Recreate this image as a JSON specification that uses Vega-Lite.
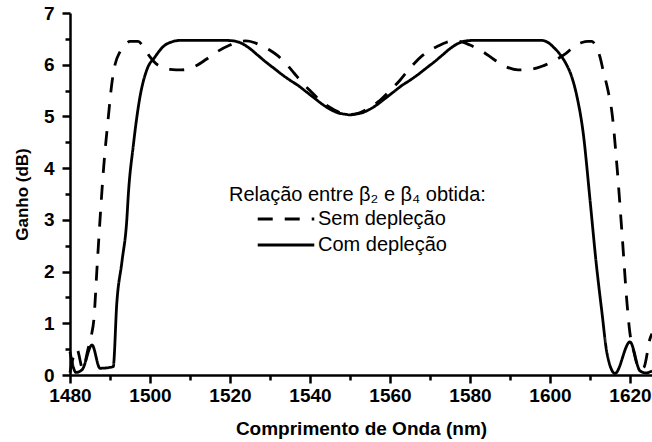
{
  "$schema": "https://vega.github.io/schema/vega-lite/v6.json",
  "width": 582,
  "height": 362,
  "autosize": {"type": "none"},
  "padding": {"left": 70, "top": 13, "right": 0, "bottom": 67},
  "config": {
    "view": {"stroke": null},
    "font": "Liberation Sans"
  },
  "data": {
    "values": [
      {"serie": "Com depleção", "lambda": 1480, "ganho": 0.45},
      {"serie": "Com depleção", "lambda": 1481.5, "ganho": 0.05},
      {"serie": "Com depleção", "lambda": 1483, "ganho": 0.1},
      {"serie": "Com depleção", "lambda": 1485.5, "ganho": 0.58},
      {"serie": "Com depleção", "lambda": 1487.5, "ganho": 0.13},
      {"serie": "Com depleção", "lambda": 1490.8, "ganho": 0.16},
      {"serie": "Com depleção", "lambda": 1491.7, "ganho": 1.39},
      {"serie": "Com depleção", "lambda": 1493, "ganho": 2.2},
      {"serie": "Com depleção", "lambda": 1494.2, "ganho": 3.0},
      {"serie": "Com depleção", "lambda": 1494.6, "ganho": 3.51},
      {"serie": "Com depleção", "lambda": 1495.8, "ganho": 4.42},
      {"serie": "Com depleção", "lambda": 1497.5, "ganho": 5.38},
      {"serie": "Com depleção", "lambda": 1499.2, "ganho": 5.9},
      {"serie": "Com depleção", "lambda": 1501.25, "ganho": 6.15},
      {"serie": "Com depleção", "lambda": 1503.3, "ganho": 6.35},
      {"serie": "Com depleção", "lambda": 1505.8, "ganho": 6.45},
      {"serie": "Com depleção", "lambda": 1507.5, "ganho": 6.47},
      {"serie": "Com depleção", "lambda": 1519, "ganho": 6.47},
      {"serie": "Com depleção", "lambda": 1521, "ganho": 6.46},
      {"serie": "Com depleção", "lambda": 1523, "ganho": 6.41},
      {"serie": "Com depleção", "lambda": 1525, "ganho": 6.31},
      {"serie": "Com depleção", "lambda": 1527, "ganho": 6.18},
      {"serie": "Com depleção", "lambda": 1529, "ganho": 6.05},
      {"serie": "Com depleção", "lambda": 1531, "ganho": 5.93},
      {"serie": "Com depleção", "lambda": 1533, "ganho": 5.81},
      {"serie": "Com depleção", "lambda": 1535, "ganho": 5.7},
      {"serie": "Com depleção", "lambda": 1537, "ganho": 5.6},
      {"serie": "Com depleção", "lambda": 1539, "ganho": 5.48},
      {"serie": "Com depleção", "lambda": 1541, "ganho": 5.36},
      {"serie": "Com depleção", "lambda": 1543, "ganho": 5.24},
      {"serie": "Com depleção", "lambda": 1545, "ganho": 5.14},
      {"serie": "Com depleção", "lambda": 1547, "ganho": 5.07},
      {"serie": "Com depleção", "lambda": 1549, "ganho": 5.04},
      {"serie": "Com depleção", "lambda": 1550, "ganho": 5.03},
      {"serie": "Com depleção", "lambda": 1551, "ganho": 5.04},
      {"serie": "Com depleção", "lambda": 1553, "ganho": 5.07},
      {"serie": "Com depleção", "lambda": 1555, "ganho": 5.14},
      {"serie": "Com depleção", "lambda": 1557, "ganho": 5.24},
      {"serie": "Com depleção", "lambda": 1559, "ganho": 5.36},
      {"serie": "Com depleção", "lambda": 1561, "ganho": 5.48},
      {"serie": "Com depleção", "lambda": 1563, "ganho": 5.6},
      {"serie": "Com depleção", "lambda": 1565, "ganho": 5.7},
      {"serie": "Com depleção", "lambda": 1567, "ganho": 5.81},
      {"serie": "Com depleção", "lambda": 1569, "ganho": 5.93},
      {"serie": "Com depleção", "lambda": 1571, "ganho": 6.05},
      {"serie": "Com depleção", "lambda": 1573, "ganho": 6.18},
      {"serie": "Com depleção", "lambda": 1575, "ganho": 6.31},
      {"serie": "Com depleção", "lambda": 1577, "ganho": 6.41},
      {"serie": "Com depleção", "lambda": 1579, "ganho": 6.46},
      {"serie": "Com depleção", "lambda": 1581, "ganho": 6.47},
      {"serie": "Com depleção", "lambda": 1598, "ganho": 6.47},
      {"serie": "Com depleção", "lambda": 1599.5, "ganho": 6.43},
      {"serie": "Com depleção", "lambda": 1601, "ganho": 6.33},
      {"serie": "Com depleção", "lambda": 1602.5, "ganho": 6.2},
      {"serie": "Com depleção", "lambda": 1604, "ganho": 6.02},
      {"serie": "Com depleção", "lambda": 1605.5, "ganho": 5.75},
      {"serie": "Com depleção", "lambda": 1606.75, "ganho": 5.38},
      {"serie": "Com depleção", "lambda": 1608.3, "ganho": 4.68},
      {"serie": "Com depleção", "lambda": 1610, "ganho": 3.39},
      {"serie": "Com depleção", "lambda": 1611.5, "ganho": 2.2},
      {"serie": "Com depleção", "lambda": 1613, "ganho": 1.2},
      {"serie": "Com depleção", "lambda": 1614.25, "ganho": 0.42},
      {"serie": "Com depleção", "lambda": 1616.25, "ganho": 0.03},
      {"serie": "Com depleção", "lambda": 1620, "ganho": 0.64},
      {"serie": "Com depleção", "lambda": 1622.5, "ganho": 0.08},
      {"serie": "Com depleção", "lambda": 1624, "ganho": 0.04},
      {"serie": "Com depleção", "lambda": 1625.5, "ganho": 0.08},

      {"serie": "Sem depleção", "lambda": 1480, "ganho": 0.05},
      {"serie": "Sem depleção", "lambda": 1481.7, "ganho": 0.5},
      {"serie": "Sem depleção", "lambda": 1483.2, "ganho": 0.12},
      {"serie": "Sem depleção", "lambda": 1484.5, "ganho": 0.5},
      {"serie": "Sem depleção", "lambda": 1485.3, "ganho": 0.75},
      {"serie": "Sem depleção", "lambda": 1486, "ganho": 1.1},
      {"serie": "Sem depleção", "lambda": 1486.7, "ganho": 2.0},
      {"serie": "Sem depleção", "lambda": 1487.5, "ganho": 3.0},
      {"serie": "Sem depleção", "lambda": 1488.4, "ganho": 4.0},
      {"serie": "Sem depleção", "lambda": 1489.6, "ganho": 5.0},
      {"serie": "Sem depleção", "lambda": 1490.4, "ganho": 5.6},
      {"serie": "Sem depleção", "lambda": 1491.25, "ganho": 6.0},
      {"serie": "Sem depleção", "lambda": 1492.5, "ganho": 6.25},
      {"serie": "Sem depleção", "lambda": 1493.75, "ganho": 6.38},
      {"serie": "Sem depleção", "lambda": 1495, "ganho": 6.45},
      {"serie": "Sem depleção", "lambda": 1497, "ganho": 6.45},
      {"serie": "Sem depleção", "lambda": 1498.5, "ganho": 6.33},
      {"serie": "Sem depleção", "lambda": 1500, "ganho": 6.15},
      {"serie": "Sem depleção", "lambda": 1501.5, "ganho": 6.02},
      {"serie": "Sem depleção", "lambda": 1503, "ganho": 5.95},
      {"serie": "Sem depleção", "lambda": 1505, "ganho": 5.91},
      {"serie": "Sem depleção", "lambda": 1508, "ganho": 5.9},
      {"serie": "Sem depleção", "lambda": 1511, "ganho": 5.96},
      {"serie": "Sem depleção", "lambda": 1514, "ganho": 6.1},
      {"serie": "Sem depleção", "lambda": 1516.75, "ganho": 6.25},
      {"serie": "Sem depleção", "lambda": 1520, "ganho": 6.38},
      {"serie": "Sem depleção", "lambda": 1522, "ganho": 6.44},
      {"serie": "Sem depleção", "lambda": 1524, "ganho": 6.46},
      {"serie": "Sem depleção", "lambda": 1526, "ganho": 6.43},
      {"serie": "Sem depleção", "lambda": 1528, "ganho": 6.36},
      {"serie": "Sem depleção", "lambda": 1530, "ganho": 6.28},
      {"serie": "Sem depleção", "lambda": 1532, "ganho": 6.17},
      {"serie": "Sem depleção", "lambda": 1534, "ganho": 6.02},
      {"serie": "Sem depleção", "lambda": 1536, "ganho": 5.84},
      {"serie": "Sem depleção", "lambda": 1537.5, "ganho": 5.7},
      {"serie": "Sem depleção", "lambda": 1540, "ganho": 5.5},
      {"serie": "Sem depleção", "lambda": 1543, "ganho": 5.28},
      {"serie": "Sem depleção", "lambda": 1546, "ganho": 5.13},
      {"serie": "Sem depleção", "lambda": 1548, "ganho": 5.06},
      {"serie": "Sem depleção", "lambda": 1550, "ganho": 5.04},
      {"serie": "Sem depleção", "lambda": 1552, "ganho": 5.06},
      {"serie": "Sem depleção", "lambda": 1554, "ganho": 5.13},
      {"serie": "Sem depleção", "lambda": 1557, "ganho": 5.28},
      {"serie": "Sem depleção", "lambda": 1560, "ganho": 5.5},
      {"serie": "Sem depleção", "lambda": 1562.5, "ganho": 5.7},
      {"serie": "Sem depleção", "lambda": 1564, "ganho": 5.84},
      {"serie": "Sem depleção", "lambda": 1566, "ganho": 6.02},
      {"serie": "Sem depleção", "lambda": 1568, "ganho": 6.17},
      {"serie": "Sem depleção", "lambda": 1570, "ganho": 6.28},
      {"serie": "Sem depleção", "lambda": 1572, "ganho": 6.36},
      {"serie": "Sem depleção", "lambda": 1574, "ganho": 6.43},
      {"serie": "Sem depleção", "lambda": 1576, "ganho": 6.46},
      {"serie": "Sem depleção", "lambda": 1578, "ganho": 6.44},
      {"serie": "Sem depleção", "lambda": 1580, "ganho": 6.38},
      {"serie": "Sem depleção", "lambda": 1583.25, "ganho": 6.25},
      {"serie": "Sem depleção", "lambda": 1586, "ganho": 6.1},
      {"serie": "Sem depleção", "lambda": 1589, "ganho": 5.96},
      {"serie": "Sem depleção", "lambda": 1592, "ganho": 5.9},
      {"serie": "Sem depleção", "lambda": 1595, "ganho": 5.91},
      {"serie": "Sem depleção", "lambda": 1598, "ganho": 5.97},
      {"serie": "Sem depleção", "lambda": 1600, "ganho": 6.04},
      {"serie": "Sem depleção", "lambda": 1602, "ganho": 6.12},
      {"serie": "Sem depleção", "lambda": 1604, "ganho": 6.22},
      {"serie": "Sem depleção", "lambda": 1606, "ganho": 6.35},
      {"serie": "Sem depleção", "lambda": 1608, "ganho": 6.43},
      {"serie": "Sem depleção", "lambda": 1609.5, "ganho": 6.45},
      {"serie": "Sem depleção", "lambda": 1610.5, "ganho": 6.45},
      {"serie": "Sem depleção", "lambda": 1611.5, "ganho": 6.35},
      {"serie": "Sem depleção", "lambda": 1612.5, "ganho": 6.15},
      {"serie": "Sem depleção", "lambda": 1613.25, "ganho": 5.9},
      {"serie": "Sem depleção", "lambda": 1614.5, "ganho": 5.5},
      {"serie": "Sem depleção", "lambda": 1615.5, "ganho": 5.07},
      {"serie": "Sem depleção", "lambda": 1616.75, "ganho": 4.03},
      {"serie": "Sem depleção", "lambda": 1618, "ganho": 2.74},
      {"serie": "Sem depleção", "lambda": 1619.25, "ganho": 1.39},
      {"serie": "Sem depleção", "lambda": 1620, "ganho": 0.8},
      {"serie": "Sem depleção", "lambda": 1620.8, "ganho": 0.5},
      {"serie": "Sem depleção", "lambda": 1622.5, "ganho": 0.1},
      {"serie": "Sem depleção", "lambda": 1623.5, "ganho": 0.15},
      {"serie": "Sem depleção", "lambda": 1625, "ganho": 0.7},
      {"serie": "Sem depleção", "lambda": 1625.5, "ganho": 0.8}
    ]
  },
  "layer": [
    {
      "mark": {"type": "line", "color": "black", "strokeWidth": 2.8, "interpolate": "monotone"},
      "encoding": {
        "x": {
          "field": "lambda",
          "type": "quantitative",
          "scale": {"domain": [1480, 1625.5], "nice": false, "zero": false},
          "axis": {
            "orient": "bottom",
            "grid": false,
            "domainColor": "black",
            "domainWidth": 2.5,
            "ticks": true,
            "tickColor": "black",
            "tickWidth": 2.5,
            "tickSize": 8,
            "title": "Comprimento de Onda (nm)",
            "titleFont": "Liberation Sans",
            "titleFontWeight": "bold",
            "titleColor": "black",
            "titleFontSize": 19,
            "titlePadding": 14,
            "values": [1480, 1500, 1520, 1540, 1560, 1580, 1600, 1620],
            "format": "d",
            "labelFont": "Liberation Sans",
            "labelFontWeight": "bold",
            "labelFontSize": 19,
            "labelColor": "black",
            "labelPadding": 3,
            "labelFlush": false,
            "labelOverlap": false
          }
        },
        "y": {
          "field": "ganho",
          "type": "quantitative",
          "scale": {"domain": [0, 7], "nice": false},
          "axis": {
            "orient": "left",
            "grid": false,
            "domainColor": "black",
            "domainWidth": 2.5,
            "ticks": true,
            "tickColor": "black",
            "tickWidth": 2.5,
            "tickSize": 8,
            "title": "Ganho (dB)",
            "titleFont": "Liberation Sans",
            "titleFontWeight": "bold",
            "titleColor": "black",
            "titleFontSize": 17,
            "titlePadding": 12,
            "values": [0, 1, 2, 3, 4, 5, 6, 7],
            "format": "d",
            "labelFont": "Liberation Sans",
            "labelFontWeight": "bold",
            "labelFontSize": 19,
            "labelColor": "black",
            "labelPadding": 8,
            "labelFlush": false,
            "labelOverlap": false
          }
        },
        "strokeDash": {
          "field": "serie",
          "type": "nominal",
          "scale": {"domain": ["Sem depleção", "Com depleção"], "range": [[15, 12], [1, 0]]},
          "legend": {
            "title": "Relação entre β₂ e β₄ obtida:",
            "orient": "none",
            "legendX": 159,
            "legendY": 172,
            "titleLimit": 400,
            "titleFont": "Liberation Sans",
            "titleFontSize": 20,
            "titleFontWeight": "normal",
            "titleColor": "black",
            "titlePadding": 4,
            "labelFont": "Liberation Sans",
            "labelFontSize": 20,
            "labelColor": "black",
            "labelLimit": 300,
            "labelOffset": 22,
            "symbolType": "M-4,0H4",
            "symbolSize": 200,
            "symbolStrokeWidth": 2.8,
            "symbolStrokeColor": "black",
            "symbolOffset": 47,
            "rowPadding": 6
          }
        }
      }
    },
    {
      "mark": {"type": "line", "strokeOpacity": 0},
      "encoding": {
        "x": {
          "field": "lambda",
          "type": "quantitative",
          "axis": {
            "orient": "bottom",
            "grid": false,
            "title": null,
            "values": [1490, 1510, 1530, 1550, 1570, 1590, 1610],
            "labels": false,
            "domain": false,
            "ticks": true,
            "tickColor": "black",
            "tickWidth": 2.5,
            "tickSize": 5
          }
        },
        "y": {
          "field": "ganho",
          "type": "quantitative",
          "axis": {
            "orient": "left",
            "grid": false,
            "title": null,
            "values": [0.5, 1.5, 2.5, 3.5, 4.5, 5.5, 6.5],
            "labels": false,
            "domain": false,
            "ticks": true,
            "tickColor": "black",
            "tickWidth": 2.5,
            "tickSize": 5
          }
        },
        "detail": {"field": "serie", "type": "nominal"}
      }
    }
  ],
  "resolve": {"axis": {"x": "independent", "y": "independent"}}
}
